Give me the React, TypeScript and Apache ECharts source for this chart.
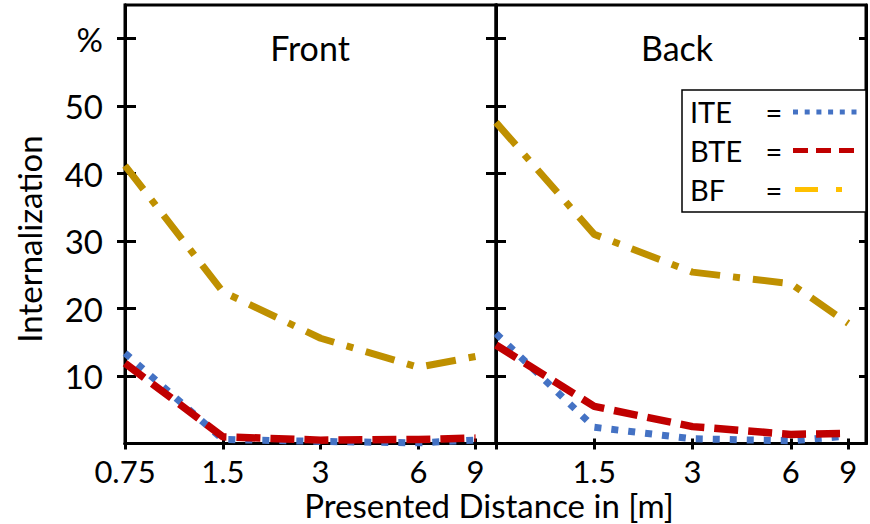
import React, { useEffect, useRef } from 'react';
import * as echarts from 'echarts';

const distances = [0.75, 1.5, 3, 6, 9];
const leftTickValues = [0.75, 1.5, 3, 6, 9];
const rightTickValues = [1.5, 3, 6, 9];
const yTickValues = [10, 20, 30, 40, 50, 60];
const panelTitles = ['Front', 'Back'];
const seriesNames = ['ITE', 'BTE', 'BF'];

const frontITE = [13.4, 0.6, 0.3, 0.1, 0.5];
const frontBTE = [11.9, 1.0, 0.5, 0.6, 0.8];
const frontBF = [41.2, 22.5, 15.6, 11.3, 12.9];
const backITE = [16.3, 2.4, 0.7, 0.4, 1.1];
const backBTE = [14.6, 5.5, 2.5, 1.35, 1.5];
const backBF = [47.6, 31.0, 25.4, 23.7, 17.8];

const FONT = 'Lato';
const BLUE = '#4472C4';
const RED = '#C00000';
const GOLD = '#BF9000';
const GOLD_LEGEND = '#FFC000';

const lineStyles = [
  { color: BLUE, width: 7, type: [7, 10], cap: 'butt' },
  { color: RED, width: 7.5, type: [24, 10], cap: 'butt' },
  { color: GOLD, width: 7, type: [30, 13, 7, 13], cap: 'butt' },
];

function pairs(vals: number[]) {
  return distances.map((d, i) => [d, vals[i]]);
}

export default function App() {
  const ref = useRef<HTMLDivElement>(null);
  useEffect(() => {
    document.body.style.margin = '0';
    if (!ref.current) return;
    const chart = echarts.init(ref.current, undefined, { renderer: 'svg' });

    const axisLine = { show: true, lineStyle: { color: '#000', width: 3 } };
    const yBase = { type: 'value', min: 0, max: 65, splitLine: { show: false }, axisLine };
    const xBase = { type: 'log', logBase: 2, min: 0.75, splitLine: { show: false }, minorTick: { show: false }, axisLine };
    const tickStyle = { color: '#000', width: 3 };
    const labelStyle = { color: '#000', fontFamily: FONT, fontSize: 31 };

    const panels = [
      { vals: [frontITE, frontBTE, frontBF] },
      { vals: [backITE, backBTE, backBF] },
    ];

    const series: any[] = [];
    panels.forEach((p, gi) => {
      p.vals.forEach((v, si) => {
        series.push({
          type: 'line',
          name: seriesNames[si],
          xAxisIndex: gi * 2,
          yAxisIndex: gi === 0 ? 0 : 2,
          data: pairs(v),
          symbol: 'none',
          lineStyle: lineStyles[si],
          z: 2 + si,
        });
      });
    });

    const txt = (text: string, x: number, y: number, size: number, extra: any = {}) => ({
      type: 'text', x, y, z: 11, ...extra,
      style: { text, font: `${size}px ${FONT}`, fill: '#000', textAlign: 'center', textVerticalAlign: 'middle', ...(extra.style || {}) },
    });

    const option: any = {
      animation: false,
      grid: [
        { left: 125, top: 5, width: 371, height: 438.5, show: true, borderColor: '#000', borderWidth: 3 },
        { left: 496, top: 5, width: 370, height: 438.5, show: true, borderColor: '#000', borderWidth: 3 },
      ],
      xAxis: [
        {
          ...xBase, gridIndex: 0, max: 10.4, position: 'bottom',
          axisTick: { show: true, inside: false, length: 6, lineStyle: tickStyle, customValues: leftTickValues },
          axisLabel: { ...labelStyle, lineHeight: 26, margin: 14, customValues: leftTickValues, formatter: (v: number) => String(v) },
        },
        {
          ...xBase, gridIndex: 0, max: 10.4, position: 'bottom',
          axisTick: { show: true, inside: true, length: 5, lineStyle: tickStyle, customValues: rightTickValues },
          axisLabel: { show: false },
        },
        {
          ...xBase, gridIndex: 1, max: 10.2, position: 'bottom',
          axisTick: { show: true, inside: false, length: 6, lineStyle: tickStyle, customValues: leftTickValues },
          axisLabel: { ...labelStyle, lineHeight: 26, margin: 14, customValues: rightTickValues, formatter: (v: number) => String(v) },
        },
        {
          ...xBase, gridIndex: 1, max: 10.2, position: 'bottom',
          axisTick: { show: true, inside: true, length: 5, lineStyle: tickStyle, customValues: rightTickValues },
          axisLabel: { show: false },
        },
      ],
      yAxis: [
        {
          ...yBase, gridIndex: 0, position: 'left',
          axisTick: { show: true, inside: false, length: 8, lineStyle: tickStyle, customValues: yTickValues },
          axisLabel: { ...labelStyle, fontSize: 33, margin: 22, customValues: yTickValues, formatter: (v: number) => (v === 60 ? '%' : String(v)) },
        },
        {
          ...yBase, gridIndex: 0, position: 'left',
          axisTick: { show: true, inside: true, length: 11, lineStyle: tickStyle, customValues: yTickValues },
          axisLabel: { show: false },
        },
        {
          ...yBase, gridIndex: 1, position: 'left',
          axisTick: { show: true, inside: false, length: 10, lineStyle: tickStyle, customValues: yTickValues },
          axisLabel: { show: false },
        },
        {
          ...yBase, gridIndex: 1, position: 'left',
          axisTick: { show: true, inside: true, length: 10, lineStyle: tickStyle, customValues: yTickValues },
          axisLabel: { show: false },
        },
        {
          ...yBase, gridIndex: 1, position: 'right',
          axisTick: { show: true, inside: true, length: 7, lineStyle: tickStyle, customValues: yTickValues },
          axisLabel: { show: false },
        },
      ],
      series,
      graphic: [
        txt(panelTitles[0], 310, 47, 34),
        txt(panelTitles[1], 677, 47, 34),
        txt('Presented Distance in [m]', 489, 505, 33, { style: { lineHeight: 28 } }),
        txt('Internalization', 29, 239, 33, { rotation: Math.PI / 2 }),
        { type: 'rect', shape: { x: 682, y: 90, width: 184, height: 122 }, style: { fill: '#fff', stroke: '#000', lineWidth: 1.5 }, z: 10 },
        txt(seriesNames[0], 690, 111, 29, { style: { textAlign: 'left' } }),
        txt(seriesNames[1], 690, 150, 29, { style: { textAlign: 'left' } }),
        txt(seriesNames[2], 690, 189, 29, { style: { textAlign: 'left' } }),
        txt('=', 774, 111, 29),
        txt('=', 774, 150, 29),
        txt('=', 774, 189, 29),
        { type: 'line', z: 11, shape: { x1: 793, y1: 112, x2: 860, y2: 112 }, style: { stroke: BLUE, lineWidth: 5, lineDash: [5, 6.7], lineCap: 'butt' } },
        { type: 'line', z: 11, shape: { x1: 793, y1: 150.5, x2: 860, y2: 150.5 }, style: { stroke: RED, lineWidth: 5, lineDash: [15, 8], lineCap: 'butt' } },
        { type: 'line', z: 11, shape: { x1: 795, y1: 189.5, x2: 843, y2: 189.5 }, style: { stroke: GOLD_LEGEND, lineWidth: 5, lineDash: [23, 18, 6, 100], lineCap: 'butt' } },
      ],
    };
    chart.setOption(option);
    return () => chart.dispose();
  }, []);
  return <div ref={ref} style={{ width: 870, height: 524 }} />;
}
